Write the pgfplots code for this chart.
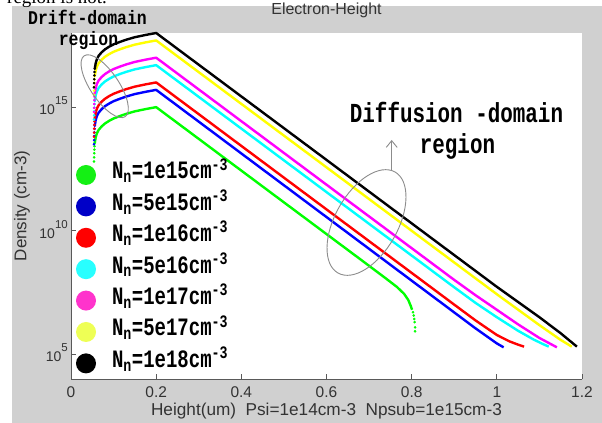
\documentclass[border=0pt]{standalone}
\usepackage{fontspec}
\setmainfont{Liberation Sans}
\newfontfamily\annot[FakeStretch=0.85]{Liberation Mono}
\newfontfamily\annotN[FakeStretch=0.76]{Liberation Mono}
\newfontfamily\docfont{Liberation Serif}
\usepackage{pgfplots}
\pgfplotsset{compat=1.18}
\usetikzlibrary{arrows.meta}
\definecolor{bggray}{RGB}{208,208,208}
\definecolor{cgreen}{RGB}{0,255,0}
\definecolor{cblue}{RGB}{0,0,255}
\definecolor{cred}{RGB}{255,0,0}
\definecolor{ccyan}{RGB}{0,255,255}
\definecolor{cmag}{RGB}{255,0,255}
\definecolor{cyel}{RGB}{255,255,0}
\definecolor{lgreen}{RGB}{20,240,20}
\definecolor{lblue}{RGB}{0,0,200}
\definecolor{lred}{RGB}{255,0,0}
\definecolor{lcyan}{RGB}{40,255,255}
\definecolor{lmag}{RGB}{255,51,204}
\definecolor{lyel}{RGB}{238,255,85}
\definecolor{anngray}{RGB}{140,140,140}
\pgfplotsset{
  curve/.style={line width=2.4bp, line join=round, forget plot, mark=none},
  dots/.style={only marks, mark=*, mark size=1.1bp, forget plot},
  lcircle/.style={legend image code/.code={\fill[#1, draw=none] (10bp,0bp) circle[radius=10bp]; \path[draw=none, fill=none] (0bp,-1bp) rectangle (36bp,1bp);}},
}
\begin{document}
\begin{tikzpicture}
\useasboundingbox (0bp,0bp) rectangle (602bp,423bp);
\fill[bggray] (12bp,0bp) rectangle (602bp,417bp);
\node[anchor=base west, inner sep=0pt, font=\docfont\fontsize{19bp}{19bp}\selectfont] at (7bp,419bp) {region is not.};
\begin{axis}[
  at={(71bp,44bp)}, anchor=south west,
  scale only axis, width=511bp, height=346bp,
  xmin=0, xmax=1.2, ymin=1e4, ymax=1e18, ymode=log,
  axis lines*=left,
  axis line style={black!65, line width=0.8bp},
  clip=false,
  axis background/.style={fill=white},
  tick align=inside,
  major tick length=5bp,
  tick style={black!65, line width=0.8bp},
  xtick={0,0.2,0.4,0.6,0.8,1,1.2},
  xticklabels={0,0.2,0.4,0.6,0.8,1,1.2},
  ytick={1e5,1e10,1e15},
  yticklabels={10\raisebox{10bp}{\fontsize{11.5bp}{11.5bp}\selectfont 5},
               10\raisebox{10bp}{\fontsize{11.5bp}{11.5bp}\selectfont 10},
               10\raisebox{10bp}{\fontsize{11.5bp}{11.5bp}\selectfont 15}},
  yminorticks=false,
  xticklabel style={anchor=base, yshift=-19bp, inner sep=0pt, font=\fontsize{15.5bp}{15.5bp}\selectfont, text=black!80},
  yticklabel style={anchor=base east, yshift=-7.7bp, xshift=-3bp, inner sep=0pt, font=\fontsize{14bp}{14bp}\selectfont, text=black!80},
  title={Electron-Height},
  title style={at={(axis description cs:0.5,1)}, anchor=base, yshift=13bp, inner sep=0pt, font=\fontsize{16bp}{16bp}\selectfont, text=black!80},
  xlabel={Height(um)\ \ Psi=1e14cm-3\ \ Npsub=1e15cm-3},
  xlabel style={at={(axis description cs:0.5,0)}, anchor=base, yshift=-36.7bp, inner sep=0pt, font=\fontsize{17.2bp}{17.2bp}\selectfont, text=black!80},
  ylabel={Density (cm-3)},
  ylabel style={at={(axis description cs:-0.096,0.5)}, anchor=center, inner sep=0pt, font=\fontsize{17bp}{17bp}\selectfont, text=black!80},
  legend style={at={(axis description cs:0.0098,0.6185)}, anchor=north west, draw=none, fill=none, inner sep=0pt, outer sep=0pt, row sep=11.4bp, column sep=0pt,
     nodes={inner sep=0pt, text height=12bp, text depth=4bp, font=\annotN\bfseries\fontsize{25bp}{25bp}\selectfont}},
  legend cell align=left,
]
% ---------- green, Nn=1e15
\addplot[dots, color=cgreen] coordinates {(0.0540,6.31e12) (0.0543,9.33e12) (0.0546,1.35e13) (0.0549,1.91e13) (0.0553,2.63e13) (0.0558,3.55e13)};
\addplot[curve, color=cgreen] coordinates {(0.0558,3.55e13) (0.058,6.03e13) (0.061,8.91e13) (0.065,1.20e14) (0.072,1.66e14) (0.080,2.19e14) (0.090,2.82e14) (0.100,3.47e14) (0.115,4.37e14) (0.130,5.37e14) (0.150,6.76e14) (0.175,8.32e14) (0.200,1e15) (0.7,3.80e8) (0.74,1.15e8) (0.765,5.37e7) (0.782,2.82e7) (0.792,1.58e7) (0.798,8.91e6) (0.801,6.31e6)};
\addplot[dots, color=cgreen] coordinates {(0.803,5.01e6) (0.805,3.72e6) (0.806,2.69e6) (0.807,2.00e6) (0.808,1.23e6) (0.808,8.51e5)};
% ---------- blue, Nn=5e15
\addplot[dots, color=cblue] coordinates {(0.0540,3.16e13) (0.0543,4.67e13) (0.0546,6.75e13) (0.0549,9.55e13) (0.0553,1.32e14) (0.0558,1.78e14)};
\addplot[curve, color=cblue] coordinates {(0.0558,1.78e14) (0.058,3.02e14) (0.061,4.46e14) (0.065,6.00e14) (0.072,8.30e14) (0.080,1.10e15) (0.090,1.41e15) (0.100,1.74e15) (0.115,2.19e15) (0.130,2.69e15) (0.150,3.38e15) (0.175,4.16e15) (0.200,5e15) (0.95,1.12e6) (1.0,2.75e5) (1.016,1.91e5)};
% ---------- red, Nn=1e16
\addplot[dots, color=cred] coordinates {(0.0540,6.31e13) (0.0543,9.33e13) (0.0546,1.35e14) (0.0549,1.91e14) (0.0553,2.63e14) (0.0558,3.55e14)};
\addplot[curve, color=cred] coordinates {(0.0558,3.55e14) (0.058,6.03e14) (0.061,8.91e14) (0.065,1.20e15) (0.072,1.66e15) (0.080,2.19e15) (0.090,2.82e15) (0.100,3.47e15) (0.115,4.37e15) (0.130,5.37e15) (0.150,6.76e15) (0.175,8.32e15) (0.200,1e16) (0.9,1.02e7) (0.95,2.34e6) (1.0,6.03e5) (1.03,3.31e5) (1.05,2.45e5) (1.064,2.04e5)};
% ---------- cyan, Nn=5e16
\addplot[dots, color=ccyan] coordinates {(0.0540,3.16e14) (0.0543,4.67e14) (0.0546,6.75e14) (0.0549,9.55e14) (0.0553,1.32e15) (0.0558,1.78e15)};
\addplot[curve, color=ccyan] coordinates {(0.0558,1.78e15) (0.058,3.02e15) (0.061,4.46e15) (0.065,6.00e15) (0.072,8.30e15) (0.080,1.10e16) (0.090,1.41e16) (0.100,1.74e16) (0.115,2.19e16) (0.130,2.69e16) (0.150,3.38e16) (0.175,4.16e16) (0.200,5e16) (0.9,5.13e7) (0.95,1.20e7) (1.0,3.16e6) (1.05,8.91e5) (1.086,3.98e5) (1.11,2.51e5) (1.122,2.04e5)};
% ---------- magenta, Nn=1e17
\addplot[dots, color=cmag] coordinates {(0.0540,6.31e14) (0.0543,9.33e14) (0.0546,1.35e15) (0.0549,1.91e15) (0.0553,2.63e15) (0.0558,3.55e15)};
\addplot[curve, color=cmag] coordinates {(0.0558,3.55e15) (0.058,6.03e15) (0.061,8.91e15) (0.065,1.20e16) (0.072,1.66e16) (0.080,2.19e16) (0.090,2.82e16) (0.100,3.47e16) (0.115,4.37e16) (0.130,5.37e16) (0.150,6.76e16) (0.175,8.32e16) (0.200,1e17) (0.9,1.02e8) (0.95,2.45e7) (1.0,6.31e6) (1.05,1.62e6) (1.1,4.57e5) (1.125,2.69e5) (1.141,1.91e5)};
% ---------- yellow, Nn=5e17
\addplot[dots, color=cyel] coordinates {(0.0540,3.16e15) (0.0543,4.67e15) (0.0546,6.75e15) (0.0549,9.55e15) (0.0553,1.32e16) (0.0558,1.78e16)};
\addplot[curve, color=cyel] coordinates {(0.0558,1.78e16) (0.058,3.02e16) (0.061,4.46e16) (0.065,6.00e16) (0.072,8.30e16) (0.080,1.10e17) (0.090,1.41e17) (0.100,1.74e17) (0.115,2.19e17) (0.130,2.69e17) (0.150,3.38e17) (0.175,4.16e17) (0.200,5e17) (1.0,2.69e7) (1.1,1.51e6) (1.15,3.80e5) (1.176,2.04e5)};
% ---------- black, Nn=1e18
\addplot[dots, color=black] coordinates {(0.0540,6.31e15) (0.0543,9.33e15) (0.0546,1.35e16) (0.0549,1.91e16) (0.0553,2.63e16) (0.0558,3.55e16)};
\addplot[curve, color=black] coordinates {(0.0558,3.55e16) (0.058,6.03e16) (0.061,8.91e16) (0.065,1.20e17) (0.072,1.66e17) (0.080,2.19e17) (0.090,2.82e17) (0.100,3.47e17) (0.115,4.37e17) (0.130,5.37e17) (0.150,6.76e17) (0.175,8.32e17) (0.200,1e18) (1.0,5.37e7) (1.1,3.16e6) (1.15,7.08e5) (1.188,2.04e5)};
% ---------- legend
\addlegendimage{lcircle=lgreen}
\addlegendentry{N\textsubscript{n}=1e15cm\textsuperscript{-3}}
\addlegendimage{lcircle=lblue}
\addlegendentry{N\textsubscript{n}=5e15cm\textsuperscript{-3}}
\addlegendimage{lcircle=lred}
\addlegendentry{N\textsubscript{n}=1e16cm\textsuperscript{-3}}
\addlegendimage{lcircle=lcyan}
\addlegendentry{N\textsubscript{n}=5e16cm\textsuperscript{-3}}
\addlegendimage{lcircle=lmag}
\addlegendentry{N\textsubscript{n}=1e17cm\textsuperscript{-3}}
\addlegendimage{lcircle=lyel}
\addlegendentry{N\textsubscript{n}=5e17cm\textsuperscript{-3}}
\addlegendimage{lcircle=black}
\addlegendentry{N\textsubscript{n}=1e18cm\textsuperscript{-3}}
\end{axis}
% ---------- annotations
\draw[anngray, line width=0.9bp, rotate around={-56:(104.7bp,336.8bp)}] (104.7bp,336.8bp) ellipse [x radius=36.7bp, y radius=14.2bp];
\draw[anngray, line width=0.9bp, rotate around={60.6:(366.5bp,200.5bp)}] (366.5bp,200.5bp) ellipse [x radius=58bp, y radius=31.4bp];
\draw[anngray, line width=0.9bp, -{Straight Barb[length=6.7bp, width=11bp]}] (391.7bp,252bp) -- (391.7bp,283bp);
\node[anchor=base, inner sep=0pt, font=\annot\bfseries\fontsize{19.4bp}{19.4bp}\selectfont] at (87.5bp,398bp) {Drift-domain};
\node[anchor=base, inner sep=0pt, font=\annot\bfseries\fontsize{19.4bp}{19.4bp}\selectfont] at (88.5bp,377bp) {region};
\node[anchor=base, inner sep=0pt, font=\annotN\bfseries\fontsize{27.5bp}{27.5bp}\selectfont] at (456.5bp,300.3bp) {Diffusion -domain};
\node[anchor=base, inner sep=0pt, font=\annotN\bfseries\fontsize{27.5bp}{27.5bp}\selectfont] at (457.5bp,269bp) {region};
\end{tikzpicture}
\end{document}
